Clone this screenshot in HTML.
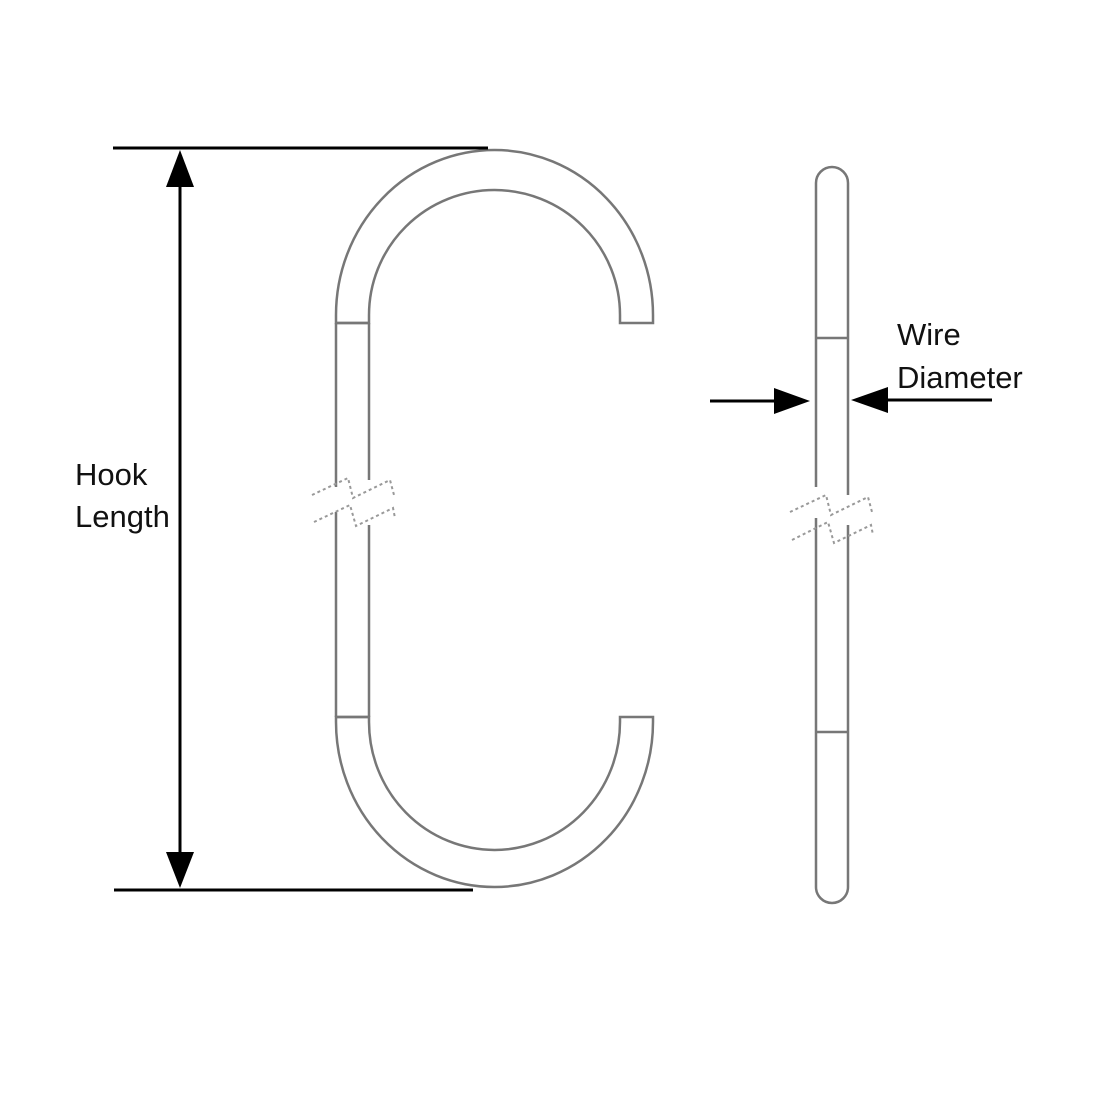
<!DOCTYPE html>
<html><head><style>
html,body{margin:0;padding:0;background:#fff;}
svg{display:block}
text{font-family:"Liberation Sans",sans-serif;font-size:31px;fill:#111}
</style></head><body>
<svg width="1100" height="1100" viewBox="0 0 1100 1100" xmlns="http://www.w3.org/2000/svg">
<rect width="1100" height="1100" fill="#fff"/>
<g fill="none" stroke="#777" stroke-width="2.5">
<path d="M336,323 L336,315 A158.5,165 0 0 1 653,315 L653,323 L620,323 L620,315 A125.5,125 0 0 0 369,315 L369,323 Z"/>
<line x1="336" y1="323" x2="369" y2="323"/>
<line x1="336" y1="323" x2="336" y2="487"/>
<line x1="336" y1="512" x2="336" y2="717"/>
<line x1="369" y1="323" x2="369" y2="480"/>
<line x1="369" y1="525" x2="369" y2="717"/>
<path d="M336,717 L336,722 A158.5,165 0 0 0 653,722 L653,717 L620,717 L620,722 A125.5,128 0 0 1 369,722 L369,717 Z"/>
<line x1="336" y1="717" x2="369" y2="717"/>
<path d="M816,487 L816,183 A16,16 0 0 1 848,183 L848,495"/>
<path d="M816,518 L816,887 A16,16 0 0 0 848,887 L848,525"/>
<line x1="816" y1="338" x2="848" y2="338"/>
<line x1="816" y1="732" x2="848" y2="732"/>
</g>
<g fill="none" stroke="#999" stroke-width="2" stroke-dasharray="3,3">
<path d="M312,495 L348,478 L353,498 L390,480 L394,495"/>
<path d="M314,522 L350,505 L356,526 L393,508 L395,518"/>
<path d="M790,512 L826,495 L831,515 L868,497 L872,512"/>
<path d="M792,540 L828,522 L834,543 L871,525 L873,535"/>
</g>
<g stroke="#000" stroke-width="3">
<line x1="113" y1="148" x2="488" y2="148"/>
<line x1="114" y1="890" x2="473" y2="890"/>
<line x1="180" y1="180" x2="180" y2="855"/>
<line x1="710" y1="401" x2="780" y2="401"/>
<line x1="880" y1="400" x2="992" y2="400"/>
</g>
<g fill="#000">
<polygon points="180,150 166,187 194,187"/>
<polygon points="180,888 166,852 194,852"/>
<polygon points="810,401 774,388 774,414"/>
<polygon points="851,400 888,387 888,413"/>
</g>
<text x="75" y="485">Hook</text>
<text x="75" y="527">Length</text>
<text x="897" y="345">Wire</text>
<text x="897" y="388">Diameter</text>
</svg>
</body></html>
